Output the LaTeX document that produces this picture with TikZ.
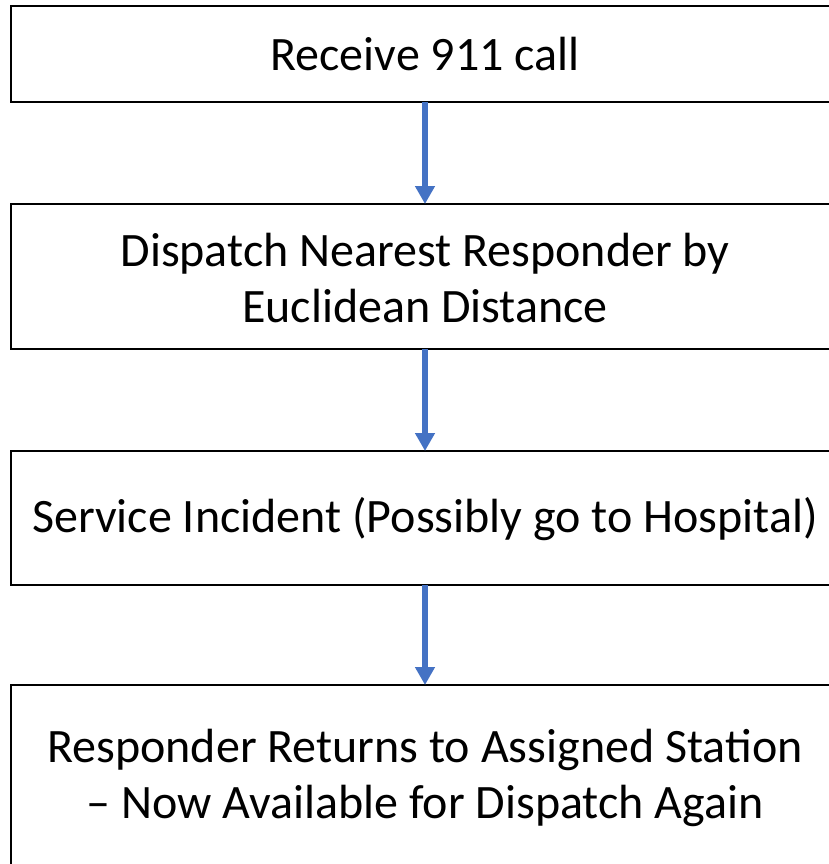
\documentclass[tikz,border=0pt]{standalone}
\usepackage{fontspec}
\setmainfont{Carlito}
\usetikzlibrary{arrows.meta}
\definecolor{flowblue}{HTML}{4472C4}
\begin{document}
\begin{tikzpicture}[x=1pt,y=-1pt,
  stepbox/.style={draw=black, line width=2.2pt, fill=white},
  flowarrow/.style={draw=flowblue, line width=5.5pt,
    -{Triangle[length=18pt,width=19pt]}},
  steptext/.style={font=\fontsize{48}{56}\selectfont, align=center, inner sep=0pt}]
  \useasboundingbox (0,0) rectangle (829,864);
  \clip (0,0) rectangle (829,864);
  % process boxes
  \draw[stepbox] (11,6) rectangle (840,102);
  \draw[stepbox] (11,204) rectangle (840,349);
  \draw[stepbox] (11,451) rectangle (840,585);
  \draw[stepbox] (11,685) rectangle (840,870);
  \coordinate (b1bot) at (425,102);
  \coordinate (b2top) at (425,204);
  \coordinate (b2bot) at (425,349);
  \coordinate (b3top) at (425,451);
  \coordinate (b3bot) at (425,585);
  \coordinate (b4top) at (425,685);
  \node[steptext] (t1) at (425,54) {Receive 911 call};
  \node[steptext] (t2) at (425,278) {Dispatch Nearest Responder by\\Euclidean Distance};
  \node[steptext] (t3) at (425,519) {Service Incident (Possibly go to Hospital)};
  \node[steptext] (t4) at (425,778) {Responder Returns to Assigned Station\\– Now Available for Dispatch Again};
  % connectors
  \draw[flowarrow] (b1bot) -- (b2top);
  \draw[flowarrow] (b2bot) -- (b3top);
  \draw[flowarrow] (b3bot) -- (b4top);
\end{tikzpicture}
\end{document}
